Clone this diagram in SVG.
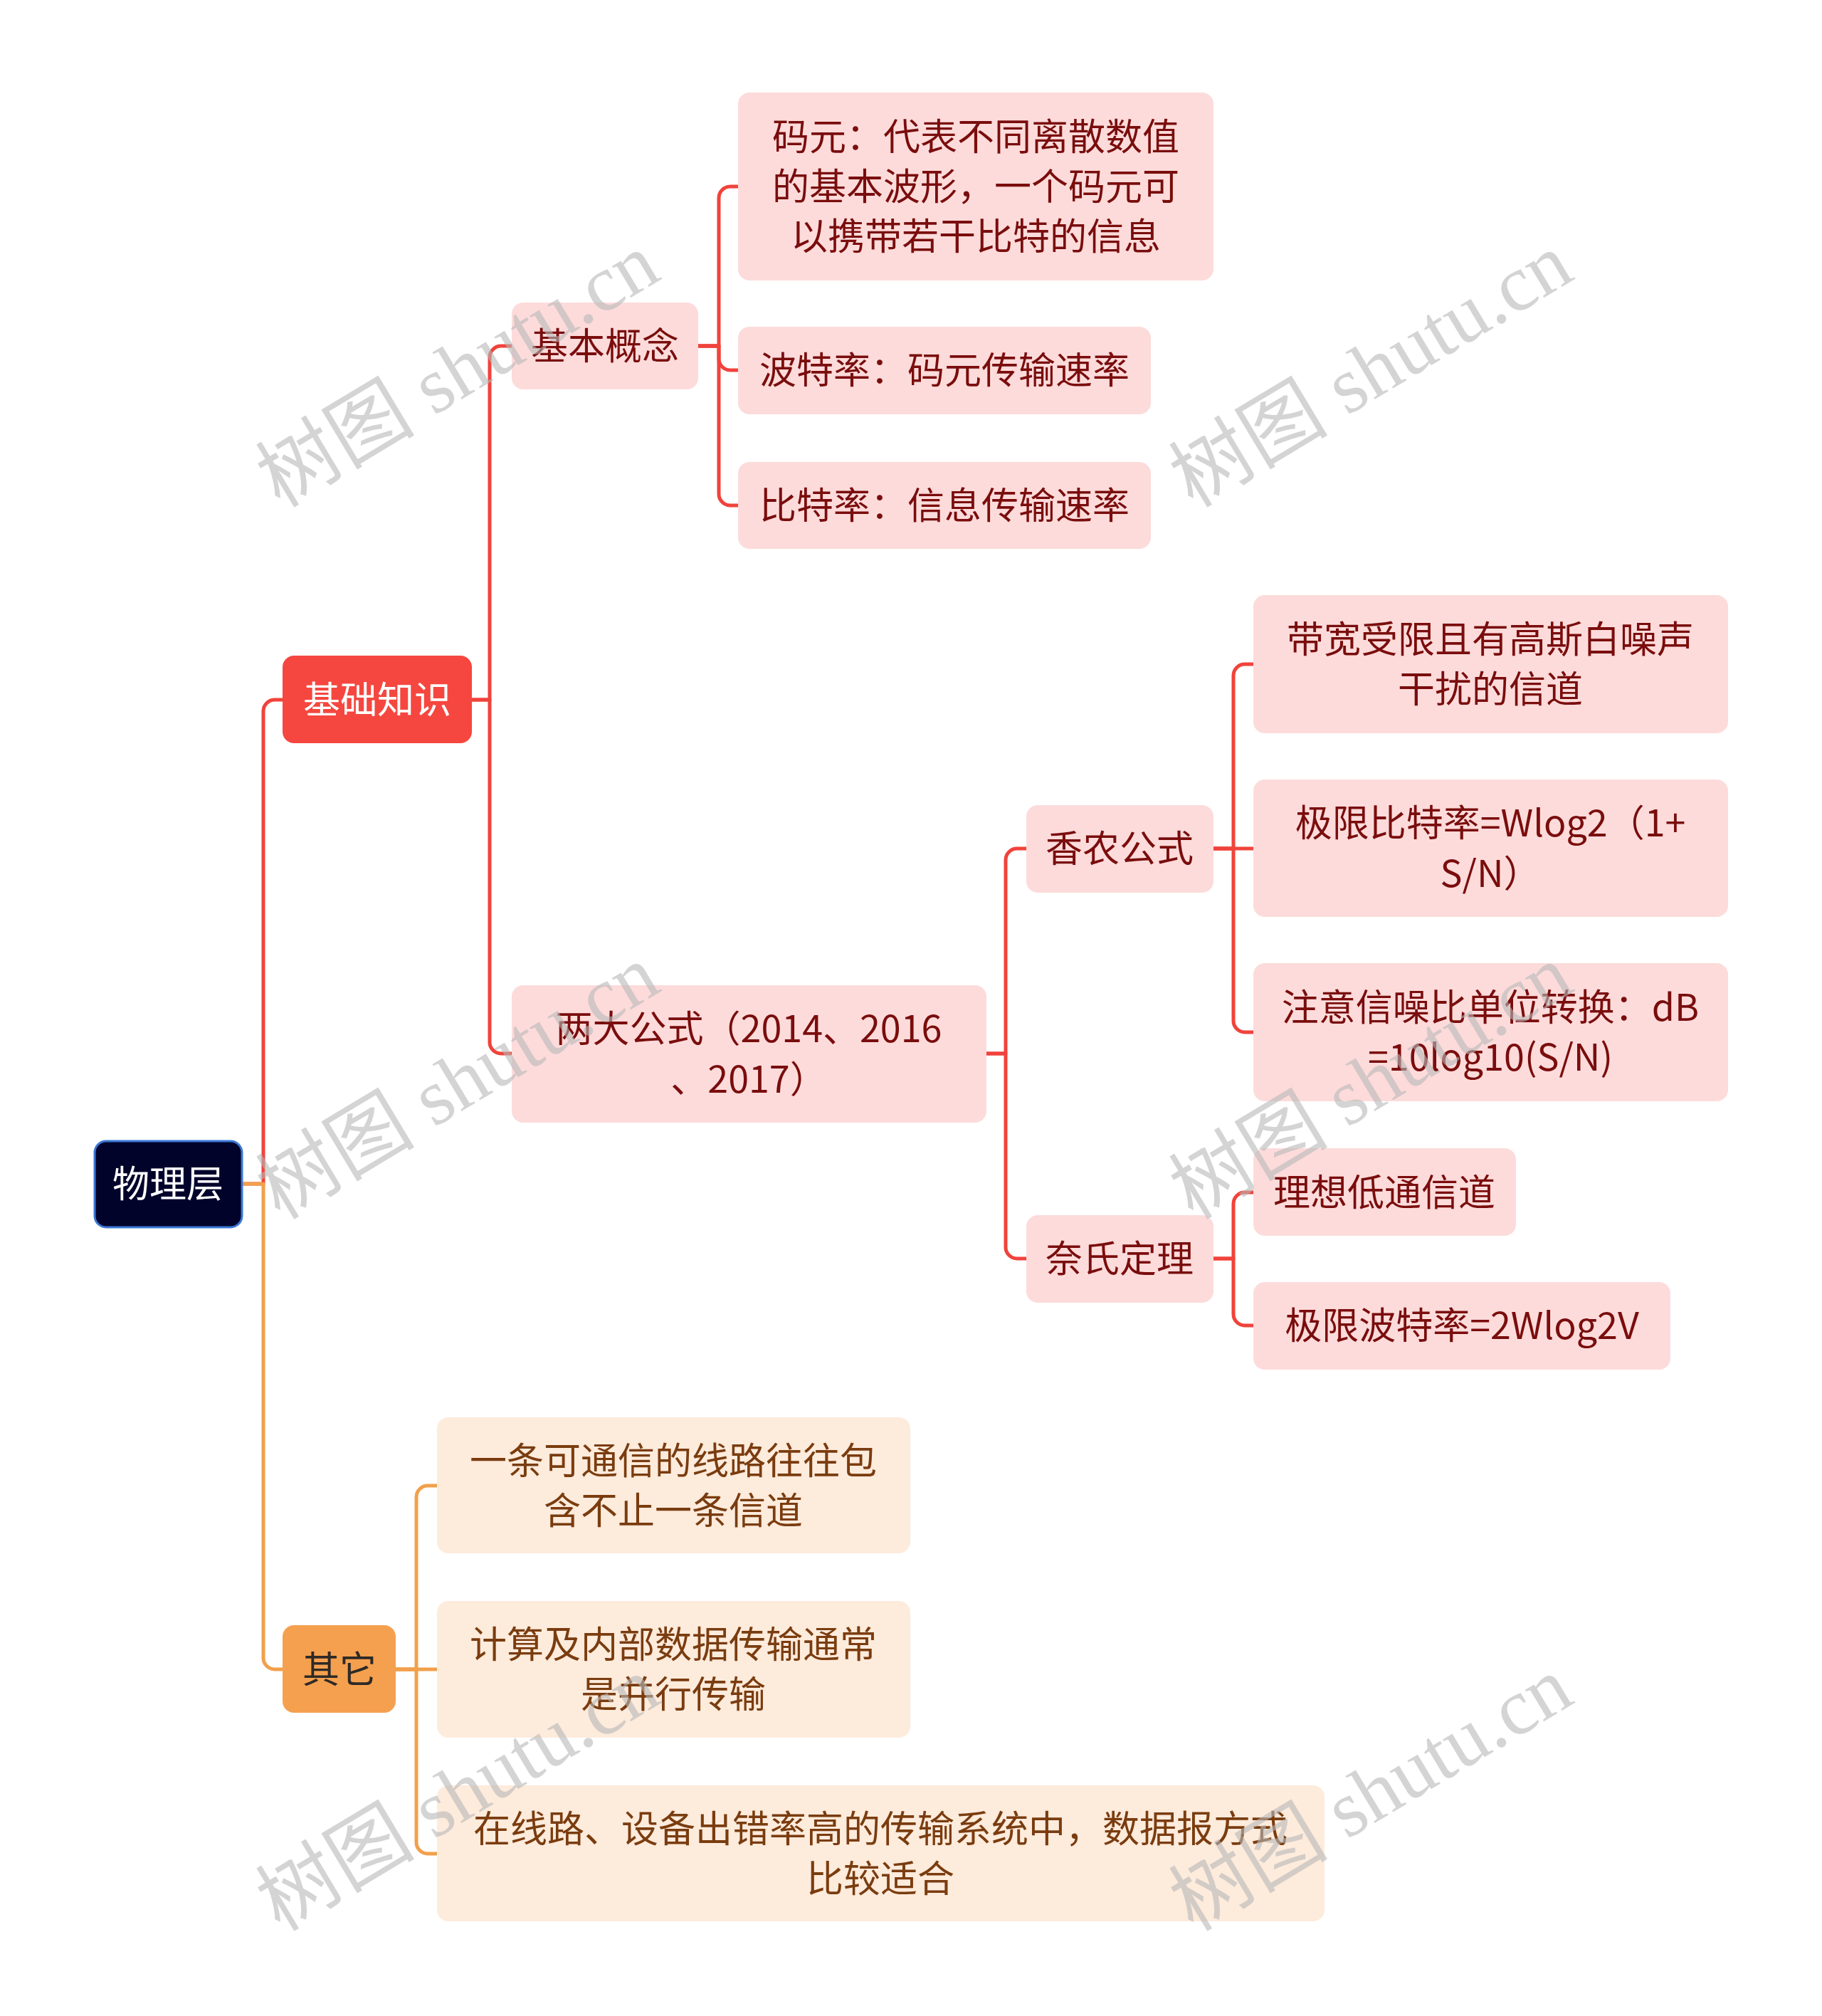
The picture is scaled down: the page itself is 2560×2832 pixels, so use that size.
<svg xmlns="http://www.w3.org/2000/svg" width="2560" height="2832" viewBox="0 0 2560 2832">
<style>
.t{font-family:"Noto Sans CJK SC","Noto Sans",sans-serif;font-size:52px;text-anchor:middle}
.tr{fill:#7a0d0d}
.to{fill:#7a3c0f}
.rb{fill:#fddbdb}
.ob{fill:#fdebdc}
.cr{fill:none;stroke:#f0433b;stroke-width:5;stroke-linecap:round;stroke-linejoin:round}
.co{fill:none;stroke:#f2a04c;stroke-width:5;stroke-linecap:round;stroke-linejoin:round}
.wm{font-family:"Liberation Serif","Noto Sans CJK SC",serif;font-size:112px;fill:#b8b8b8;fill-opacity:0.6;text-anchor:middle}
</style>
<rect width="2560" height="2832" fill="#ffffff"/>
<g id="connectors">
<path class="cr" d="M341,1663 H370 V999 A16,16 0 0 1 386,983 H397"/>
<path class="co" d="M341,1663 H370 V2329 A16,16 0 0 0 386,2345 H397"/>
<path class="cr" d="M663,983 H688 V502 A16,16 0 0 1 704,486 H719"/>
<path class="cr" d="M663,983 H688 V1464 A16,16 0 0 0 704,1480 H719"/>
<path class="cr" d="M981,486 H1010 V278 A16,16 0 0 1 1026,262 H1037"/>
<path class="cr" d="M981,486 H1010 V504 A16,16 0 0 0 1026,520 H1037"/>
<path class="cr" d="M981,486 H1010 V694 A16,16 0 0 0 1026,710 H1037"/>
<path class="cr" d="M1386,1480 H1413 V1208 A16,16 0 0 1 1429,1192 H1442"/>
<path class="cr" d="M1386,1480 H1413 V1752 A16,16 0 0 0 1429,1768 H1442"/>
<path class="cr" d="M1705,1192 H1733 V949 A16,16 0 0 1 1749,933 H1761"/>
<path class="cr" d="M1705,1192 H1761"/>
<path class="cr" d="M1705,1192 H1733 V1434 A16,16 0 0 0 1749,1450 H1761"/>
<path class="cr" d="M1705,1768 H1733 V1691 A16,16 0 0 1 1749,1675 H1761"/>
<path class="cr" d="M1705,1768 H1733 V1846 A16,16 0 0 0 1749,1862 H1761"/>
<path class="co" d="M556,2345 H585 V2103 A16,16 0 0 1 601,2087 H614"/>
<path class="co" d="M556,2345 H614"/>
<path class="co" d="M556,2345 H585 V2588 A16,16 0 0 0 601,2604 H614"/>
</g>
<g id="root">
<rect x="133" y="1603" width="207" height="121" rx="16" fill="#02032b" stroke="#3a78d6" stroke-width="3"/>
<text class="t" x="236" y="1682" fill="#ffffff">物理层</text>
</g>
<g id="n-jichu">
<rect x="397" y="921" width="266" height="123" rx="16" fill="#f5473f"/>
<text class="t" x="530" y="1002" fill="#ffffff">基础知识</text>
</g>
<g id="n-qita">
<rect x="397" y="2283" width="159" height="123" rx="16" fill="#f5a04f"/>
<text class="t" x="477" y="2364" fill="#2e2a26">其它</text>
</g>
<g id="n-jiben">
<rect class="rb" x="719" y="425" width="262" height="122" rx="16"/>
<text class="t tr" x="850" y="505">基本概念</text>
</g>
<g id="n-mayuan">
<rect class="rb" x="1037" y="130" width="668" height="264" rx="16"/>
<text class="t tr" x="1371" y="211">码元：代表不同离散数值</text>
<text class="t tr" x="1371" y="281">的基本波形，一个码元可</text>
<text class="t tr" x="1371" y="351">以携带若干比特的信息</text>
</g>
<g id="n-botelv">
<rect class="rb" x="1037" y="459" width="580" height="123" rx="16"/>
<text class="t tr" x="1327" y="539">波特率：码元传输速率</text>
</g>
<g id="n-bitelv">
<rect class="rb" x="1037" y="649" width="580" height="122" rx="16"/>
<text class="t tr" x="1327" y="729">比特率：信息传输速率</text>
</g>
<g id="n-liangda">
<rect class="rb" x="719" y="1384" width="667" height="193" rx="16"/>
<text class="t tr" x="1052" y="1464">两大公式（2014、2016</text>
<text class="t tr" x="1052" y="1535">、2017）</text>
</g>
<g id="n-xiangnong">
<rect class="rb" x="1442" y="1131" width="263" height="123" rx="16"/>
<text class="t tr" x="1573" y="1211">香农公式</text>
</g>
<g id="n-naishi">
<rect class="rb" x="1442" y="1707" width="263" height="123" rx="16"/>
<text class="t tr" x="1573" y="1787">奈氏定理</text>
</g>
<g id="n-daikuan">
<rect class="rb" x="1761" y="836" width="667" height="194" rx="16"/>
<text class="t tr" x="2094" y="917">带宽受限且有高斯白噪声</text>
<text class="t tr" x="2094" y="987">干扰的信道</text>
</g>
<g id="n-jixianbite">
<rect class="rb" x="1761" y="1095" width="667" height="193" rx="16"/>
<text class="t tr" x="2094" y="1175">极限比特率=Wlog2（1+</text>
<text class="t tr" x="2094" y="1246">S/N）</text>
</g>
<g id="n-zhuyi">
<rect class="rb" x="1761" y="1353" width="667" height="194" rx="16"/>
<text class="t tr" x="2094" y="1434">注意信噪比单位转换：dB</text>
<text class="t tr" x="2094" y="1504">=10log10(S/N)</text>
</g>
<g id="n-lixiang">
<rect class="rb" x="1761" y="1613" width="369" height="123" rx="16"/>
<text class="t tr" x="1945" y="1694">理想低通信道</text>
</g>
<g id="n-jixianbote">
<rect class="rb" x="1761" y="1801" width="586" height="123" rx="16"/>
<text class="t tr" x="2054" y="1881">极限波特率=2Wlog2V</text>
</g>
<g id="n-yitiao">
<rect class="ob" x="614" y="1991" width="665" height="191" rx="16"/>
<text class="t to" x="946" y="2071">一条可通信的线路往往包</text>
<text class="t to" x="946" y="2141">含不止一条信道</text>
</g>
<g id="n-jisuan">
<rect class="ob" x="614" y="2249" width="665" height="192" rx="16"/>
<text class="t to" x="946" y="2329">计算及内部数据传输通常</text>
<text class="t to" x="946" y="2399">是并行传输</text>
</g>
<g id="n-zaixianlu">
<rect class="ob" x="614" y="2508" width="1247" height="191" rx="16"/>
<text class="t to" x="1237" y="2588">在线路、设备出错率高的传输系统中，数据报方式</text>
<text class="t to" x="1237" y="2658">比较适合</text>
</g>
<g id="watermarks">
<text class="wm" transform="translate(643,520) rotate(-31)" y="38">树图 shutu.cn</text>
<text class="wm" transform="translate(1926,520) rotate(-31)" y="38">树图 shutu.cn</text>
<text class="wm" transform="translate(643,1520) rotate(-31)" y="38">树图 shutu.cn</text>
<text class="wm" transform="translate(1926,1520) rotate(-31)" y="38">树图 shutu.cn</text>
<text class="wm" transform="translate(643,2520) rotate(-31)" y="38">树图 shutu.cn</text>
<text class="wm" transform="translate(1926,2520) rotate(-31)" y="38">树图 shutu.cn</text>
</g>
</svg>
